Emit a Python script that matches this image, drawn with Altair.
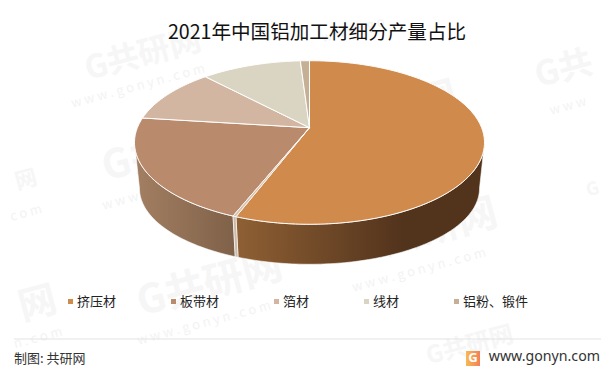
import math
import altair as alt

# --- data ---
categories = ["挤压材", "板带材", "箔材", "线材", "铝粉、锻件"]
shares = [55.9, 21.1, 11.0, 11.0, 1.0]
top_colors = ["#D08A4C", "#B98A6C", "#D2B6A2", "#DAD5C2", "#C6B095"]
title_text = "2021年中国铝加工材细分产量占比"
source_text = "制图: 共研网"
site_text = "www.gonyn.com"
# watermark pieces visible inside the picture: text, x, y, size
watermark_main = [("G共研网", 135, 47, 32), ("G共研网", 167, 142, 40), ("G共研网", 377, 107, 40),
                  ("G共研网", 417, 224, 40), ("G共研网", 202, 277, 40), ("G共研网", 462, 338, 24),
                  ("G共", 556, 62, 34), ("G", 585, 182, 18), ("网", 18, 172, 22), ("网", 30, 297, 38)]
watermark_sub = [("w w w . g o n y n . c o m", 130, 78), ("w w w . g o n y n . c o m", 161, 180),
                 ("w w w . g o n y n . c o m", 371, 145), ("w w w . g o n y n . c o m", 411, 262),
                 ("w w w . g o n y n . c o m", 196, 315), ("w w w . g o", 345, 22),
                 ("w w w", 560, 98), ("c o m", 18, 205), ("n . c o m", 30, 330)]

# --- layout of the 3D pie (page pixels less the 8px margin) ---
W, H = 595, 362
CX, CY_TOP, CY_LOW = 301.5, 119.7, 166.8
A_TOP, B_TOP = 172.1, 79.1
A_LOW, B_LOW = 167.2, 73.3
K = 0.1809
SEAM = 0.45


def rim(theta_deg, a, b, cy):
    t = math.radians(theta_deg)
    x, y = math.sin(t), -math.cos(t)
    w = 1 - K * y
    return [CX + a * x / w, cy + b * y / w]


def arc(a0, a1, a, b, cy):
    n = max(2, int(abs(a1 - a0)) + 2)
    return [rim(a0 + (a1 - a0) * i / (n - 1), a, b, cy) for i in range(n)]


def feature(ring, name):
    return {"type": "Feature", "name": name,
            "geometry": {"type": "Polygon", "coordinates": [ring + [ring[0]]]}}


def wedge(a0, a1, name):
    return feature([[CX, CY_TOP]] + arc(a0, a1, A_TOP, B_TOP, CY_TOP), name)


def side(a0, a1, name):
    return feature(arc(a0, a1, A_TOP, B_TOP, CY_TOP) + arc(a1, a0, A_LOW, B_LOW, CY_LOW), name)


edges = [0.0]
for s in shares:
    edges.append(edges[-1] + s * 3.6)

wedges = [wedge(edges[i] + (SEAM if i == 1 else 0), edges[i + 1] - (SEAM if i == 0 else 0), categories[i])
          for i in range(len(categories))]
silhouette = math.degrees(math.acos(-K))


def shape(features, **mark):
    return alt.Chart(alt.InlineData(values=features)).mark_geoshape(**mark).project(
        type="identity", scale=1, translate=[0, 0])


def grad(stops):
    return alt.Gradient(gradient="linear", x1=0, x2=1, y1=0, y2=0,
                        stops=[alt.GradientStop(offset=o, color=c) for o, c in stops])


side_orange = shape([side(silhouette, edges[1] - SEAM, "a")],
                    fill=grad([(0, "#8F6034"), (0.67, "#52331C"), (1, "#52331C")]),
                    stroke="#ffffff", strokeWidth=0.6)
side_brown = shape([side(edges[1] + SEAM, 360 - silhouette, "b")],
                   fill=grad([(0, "#A37F62"), (1, "#7F6149")]),
                   stroke="#ffffff", strokeWidth=0.6)
side_seam = shape([side(edges[1] - SEAM, edges[1] + SEAM, "s")], fill="#CBB9A9", stroke="#ffffff", strokeWidth=0.6)
top_seam = shape([wedge(edges[1] - SEAM, edges[1] + SEAM, "s")], fill="#D9C3AF", stroke="#ffffff", strokeWidth=0.7)

tops = shape(wedges, stroke="#ffffff", strokeWidth=1).encode(
    color=alt.Color("name:N",
                    scale=alt.Scale(domain=categories, range=top_colors),
                    legend=alt.Legend(title=None, orient="none", legendX=56, legendY=287,
                                      direction="horizontal", columns=5, gridAlign="none",
                                      columnPadding=50, symbolType="square", symbolSize=25,
                                      symbolStrokeWidth=0, labelFontSize=13, labelOffset=0,
                                      labelFont="Noto Sans CJK SC", labelColor="#222222")))

X = alt.Scale(domain=[0, W], range=[0, W])
Y = alt.Scale(domain=[H, 0], range=[H, 0])


def text(rows, **mark):
    return alt.Chart(alt.Data(values=rows)).mark_text(**mark).encode(
        x=alt.X("x:Q", scale=X, axis=None), y=alt.Y("y:Q", scale=Y, axis=None), text="t:N")


marks_main = alt.Chart(alt.Data(values=[{"t": t, "x": x, "y": y, "s": s} for t, x, y, s in watermark_main])).mark_text(
    font="Noto Sans CJK SC", fontWeight="bold", angle=345, color="#F6F6F6"
).encode(x=alt.X("x:Q", scale=X, axis=None), y=alt.Y("y:Q", scale=Y, axis=None), text="t:N",
         size=alt.Size("s:Q", scale=None))
marks_sub = text([{"x": x, "y": y, "t": t} for t, x, y in watermark_sub],
                 font="Noto Sans CJK SC", fontSize=13, angle=345, color="#F3F3F3")
title = text([{"x": 309, "y": 25, "t": title_text}], font="Noto Sans CJK SC", fontSize=19.6, color="#111111")
source = text([{"x": 6, "y": 351, "t": source_text}], font="Noto Sans CJK SC", fontSize=13, align="left", color="#333333")
site = text([{"x": 592, "y": 349, "t": site_text}], font="Noto Sans", fontSize=14.2, align="right", color="#333333")
logo_g = text([{"x": 465, "y": 350, "t": "G"}], font="Noto Sans", fontWeight="bold", fontSize=13, color="#ffffff")

logo = alt.Chart(alt.Data(values=[{"a": 1}])).mark_rect(
    fill=alt.Gradient(gradient="linear", x1=0, x2=1, y1=0, y2=0,
                      stops=[alt.GradientStop(offset=0, color="#F9B94E"), alt.GradientStop(offset=1, color="#F2805A")])
).encode(x=alt.value(458), x2=alt.value(472), y=alt.value(343), y2=alt.value(358))

one = alt.Data(values=[{"a": 1}])
foot_rule = alt.Chart(one).mark_rule(color="#E3E3E3", strokeWidth=1).encode(
    x=alt.value(6), x2=alt.value(593), y=alt.value(331))

chart = alt.layer(marks_main, marks_sub, side_orange, side_brown, side_seam, tops, top_seam,
                  title, foot_rule, source, logo, logo_g, site
                  ).properties(
    width=W, height=H, padding=0, autosize=alt.AutoSizeParams(type="none"),
    background="#ffffff"
).configure_view(stroke=None)

chart.save("out.html", embed_options={"renderer": "svg", "actions": False})
